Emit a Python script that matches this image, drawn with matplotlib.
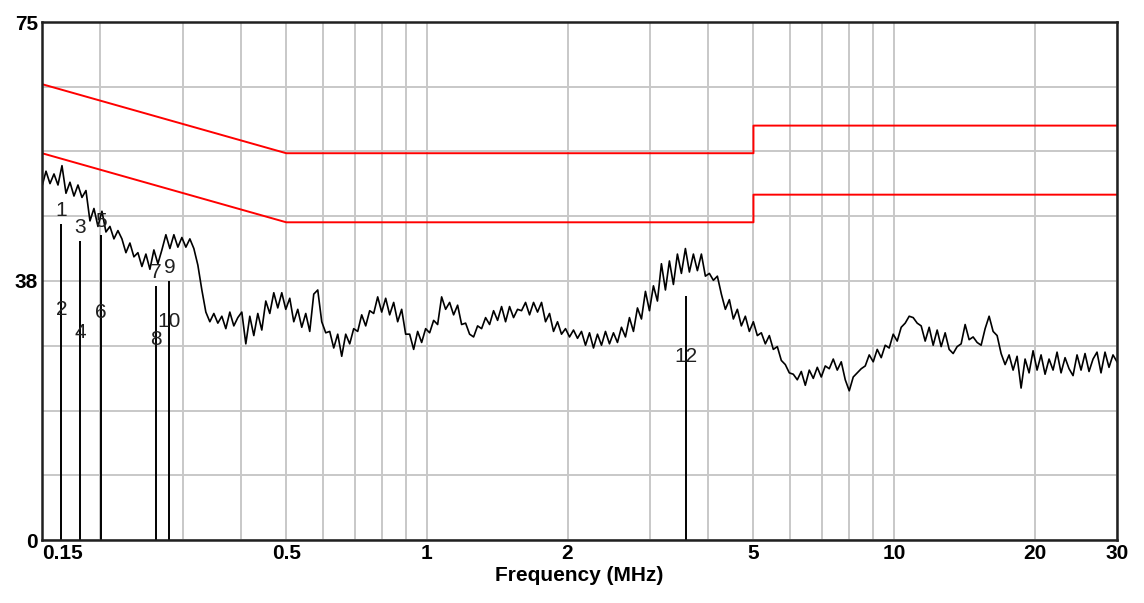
"""Conducted emission scan 150 kHz - 30 MHz with QP / AV limit lines and marker readings."""
import numpy as np
import matplotlib
matplotlib.use("Agg")
import matplotlib.pyplot as plt

plt.rcParams["font.family"] = ["Liberation Sans", "DejaVu Sans"]

F_START, F_STOP = 0.15, 30.0

# measured level (dBuV), log-spaced sweep points from 0.15 to 30 MHz
level = [
    51.2, 53.4, 51.6, 53.0, 51.4, 54.2, 50.2, 51.8, 49.8, 51.4,
    49.6, 50.6, 46.2, 48.0, 45.4, 47.6, 44.6, 45.4, 43.6, 44.8,
    43.6, 41.6, 43.0, 41.0, 41.6, 39.6, 41.4, 39.2, 42.0, 40.0,
    42.0, 44.2, 42.2, 44.2, 42.4, 43.8, 42.4, 43.6, 42.2, 39.8,
    36.2, 33.0, 31.6, 32.8, 31.4, 32.4, 30.6, 33.0, 31.0, 32.2,
    33.0, 28.4, 32.4, 29.6, 32.8, 30.4, 34.6, 32.8, 35.8, 33.6,
    35.8, 33.4, 35.0, 31.6, 33.4, 30.8, 32.8, 30.2, 35.6, 36.2,
    31.6, 30.0, 30.2, 27.8, 29.8, 26.6, 29.8, 28.4, 30.6, 30.2,
    32.6, 31.0, 33.2, 32.8, 35.2, 33.0, 35.0, 32.6, 34.4, 31.6,
    33.4, 29.8, 29.8, 27.6, 30.2, 28.6, 30.6, 30.0, 31.8, 31.2,
    35.2, 33.4, 34.4, 32.6, 34.0, 31.2, 31.4, 29.8, 29.4, 31.0,
    30.6, 32.2, 31.2, 33.2, 31.8, 33.8, 31.6, 33.8, 32.2, 33.4,
    33.2, 34.4, 32.6, 34.4, 33.0, 34.4, 31.6, 32.8, 30.2, 31.6,
    29.8, 30.6, 29.4, 30.4, 29.2, 30.2, 28.2, 30.0, 27.8, 29.8,
    28.2, 30.2, 28.4, 30.0, 28.6, 30.8, 29.4, 32.2, 30.2, 33.6,
    32.0, 36.0, 33.2, 36.8, 34.6, 40.0, 36.2, 40.4, 37.0, 41.4,
    38.6, 42.2, 38.8, 41.4, 39.0, 41.4, 38.2, 38.6, 37.6, 38.2,
    35.6, 33.4, 34.8, 32.0, 33.4, 31.0, 32.4, 30.2, 31.6, 29.6,
    30.0, 28.4, 29.6, 27.6, 28.0, 26.0, 25.4, 24.2, 24.0, 23.2,
    24.4, 22.4, 24.6, 23.4, 25.0, 23.6, 25.2, 24.8, 26.2, 24.6,
    25.8, 23.2, 21.6, 23.6, 24.2, 24.8, 25.2, 26.8, 25.8, 27.6,
    26.4, 28.2, 27.8, 29.8, 28.8, 30.8, 31.4, 32.4, 32.2, 31.4,
    31.0, 28.8, 30.8, 28.2, 30.4, 28.0, 30.0, 27.6, 27.0, 28.0,
    28.4, 31.2, 29.0, 29.4, 28.6, 28.2, 30.6, 32.4, 30.2, 29.6,
    27.0, 25.4, 26.8, 24.6, 26.6, 22.0, 26.2, 24.2, 27.4, 24.6,
    26.8, 24.0, 26.2, 24.6, 27.2, 24.2, 26.4, 24.8, 23.8, 26.8,
    24.6, 27.0, 24.4, 26.2, 27.2, 24.2, 27.2, 25.0, 26.8, 25.8,
]
freq = np.geomspace(F_START, F_STOP, len(level))

# limit lines (EN 55022 class B style): quasi-peak and average
qp_freq = [0.15, 0.5, 5, 5, 30]
qp_limit = [66, 56, 56, 60, 60]
av_freq = [0.15, 0.5, 5, 5, 30]
av_limit = [56, 46, 46, 50, 50]

# markers: odd number = QP reading (line height), even number = AV reading
mk_freq = [0.165, 0.181, 0.2006, 0.263, 0.281, 3.58]
mk_qp = [45.8, 43.3, 44.2, 36.8, 37.5, 35.3]
mk_av = [33.4, 30.0, 32.9, 29.0, 31.6, 26.5]
mk_qp_lbl = ["1", "3", "5", "7", "9", ""]
mk_av_lbl = ["2", "4", "6", "8", "10", "12"]

x_ticks = [0.15, 0.5, 1, 2, 5, 10, 20, 30]
x_ticklabels = ["0.15", "0.5", "1", "2", "5", "10", "20", "30"]
x_grid = [0.2, 0.3, 0.4, 0.6, 0.7, 0.8, 0.9, 3, 4, 6, 7, 8, 9]
y_ticks = [0, 37.5, 75]
y_ticklabels = ["0", "38", "75"]

fig = plt.figure(figsize=(11.44, 6.03), dpi=100)
ax = fig.add_axes([42 / 1144, 1 - 540 / 603, 1075 / 1144, 518 / 603])
ax.set_xscale("log")
ax.set_xlim(F_START, F_STOP)
ax.set_ylim(0, 75)

ax.set_xticks(x_ticks)
ax.set_xticklabels(x_ticklabels, fontsize=15, fontweight="bold")
ax.set_xticks(x_grid, minor=True)
ax.xaxis.set_minor_formatter(matplotlib.ticker.NullFormatter())
ax.get_xticklabels()[0].set_ha("left")
ax.set_yticks(y_ticks)
ax.set_yticklabels(y_ticklabels, fontsize=15, fontweight="bold")
ax.set_yticks(np.arange(0, 75.1, 75 / 8), minor=True)
ax.tick_params(which="both", length=0, pad=3)
ax.grid(which="both", color="#c8c8c8", lw=1.4)
ax.set_axisbelow(True)
for s in ax.spines.values():
    s.set_color("#202020")
    s.set_linewidth(1.8)

ax.plot(qp_freq, qp_limit, color="#ff0000", lw=1.4)
ax.plot(av_freq, av_limit, color="#ff0000", lw=1.4)
ax.plot(freq, level, color="black", lw=1.2)

for f, qp, av, l1, l2 in zip(mk_freq, mk_qp, mk_av, mk_qp_lbl, mk_av_lbl):
    ax.vlines(f, 0, qp, color="black", lw=1.4)
    if l1:
        ax.annotate(l1, (f, qp), xytext=(0, 3), textcoords="offset points",
                    ha="center", va="bottom", fontsize=15, color="#202020")
    ax.text(f, av, l2, ha="center", va="center", fontsize=15, color="#202020")

ax.set_xlabel("Frequency (MHz)", fontsize=15, fontweight="bold", labelpad=2)

fig.savefig("out.png", dpi=100)
